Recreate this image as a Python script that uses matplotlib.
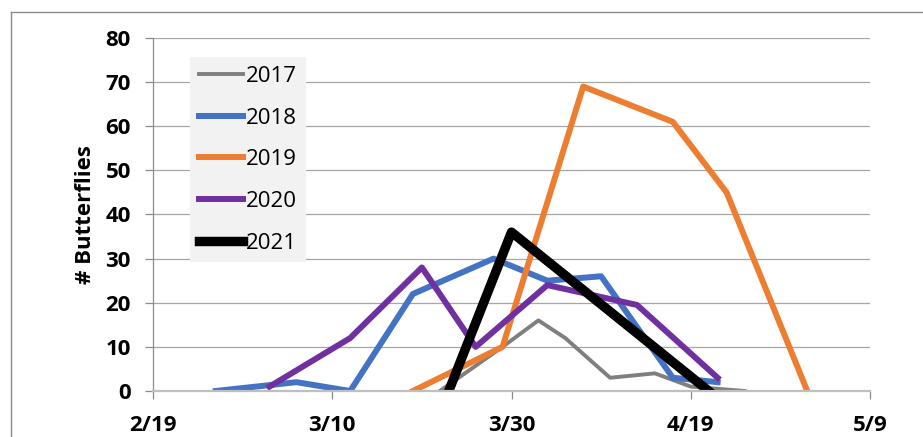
import matplotlib
matplotlib.use("Agg")
import matplotlib.pyplot as plt
from matplotlib.lines import Line2D

plt.rcParams['font.family'] = ['Open Sans', 'DejaVu Sans']

# days after 2/19
days_2017 = [32, 39, 43, 46, 51, 56, 60, 66]
vals_2017 = [0, 10, 16, 12, 3, 4, 1, 0]

days_2018 = [7, 16, 22, 29, 38, 44, 50, 58, 63]
vals_2018 = [0, 2, 0, 22, 30, 25, 26, 3, 2]

days_2019 = [29, 39, 48, 58, 64, 73]
vals_2019 = [0, 10, 69, 61, 45, 0]

days_2020 = [13, 22, 30, 36, 44, 54, 63]
vals_2020 = [1, 12, 28, 10, 24, 19.5, 3]

days_2021 = [33, 40, 62]
vals_2021 = [0, 36, 0]

tick_days = [0, 20, 40, 60, 80]
tick_labels = ['2/19', '3/10', '3/30', '4/19', '5/9']

fig = plt.figure(figsize=(9.23, 4.37), dpi=100)
ax = fig.add_axes([153/923, 1-391/437, (870-153)/923, (391-38)/437])

ax.plot(days_2017, vals_2017, color='#7f7f7f', lw=2.8, label='2017', solid_joinstyle='round')
ax.plot(days_2018, vals_2018, color='#4472c4', lw=4.3, label='2018', solid_joinstyle='round')
ax.plot(days_2019, vals_2019, color='#ed7d31', lw=4.3, label='2019', solid_joinstyle='round')
ax.plot(days_2020, vals_2020, color='#7030a0', lw=4.3, label='2020', solid_joinstyle='round')
ax.plot(days_2021, vals_2021, color='black', lw=6.8, label='2021', solid_joinstyle='round')

ax.set_xlim(0, 80)
ax.set_ylim(0, 80)
ax.set_xticks(tick_days)
ax.set_xticklabels(tick_labels)
ax.set_yticks(range(0, 81, 10))
ax.yaxis.grid(True, color='#a6a6a6', lw=0.9)
ax.set_axisbelow(True)

for s in ['top', 'right']:
    ax.spines[s].set_visible(False)
ax.spines['left'].set_color('#8c8c8c')
ax.spines['left'].set_linewidth(0.9)
ax.spines['bottom'].set_color('#bfbfbf')
ax.spines['bottom'].set_linewidth(1.6)

ax.tick_params(axis='both', labelsize=16, color='#8c8c8c', length=6, width=0.9)
ax.tick_params(axis='y', pad=10)
ax.tick_params(axis='x', pad=11)
for lab in ax.get_xticklabels() + ax.get_yticklabels():
    lab.set_fontweight('bold')

ax.set_ylabel('# Butterflies', fontsize=16, fontweight='bold', labelpad=7)

leg = ax.legend(loc='upper left', bbox_to_anchor=(190/923, 1-57/437),
                bbox_transform=fig.transFigure, borderaxespad=0,
                fontsize=16, handlelength=2.0, handletextpad=0.12,
                labelspacing=0.93, borderpad=0.4, fancybox=False,
                frameon=True, framealpha=1)
leg.get_frame().set_facecolor('#f2f2f2')
leg.get_frame().set_edgecolor('none')

# chart area border (left and top visible)
fig.add_artist(Line2D([11/923, 11/923], [0, 1-12/437], color='#8c8c8c', lw=1,
                      transform=fig.transFigure))
fig.add_artist(Line2D([11/923, 1], [1-12/437, 1-12/437], color='#8c8c8c', lw=1,
                      transform=fig.transFigure))

plt.savefig('out.png', dpi=100)
